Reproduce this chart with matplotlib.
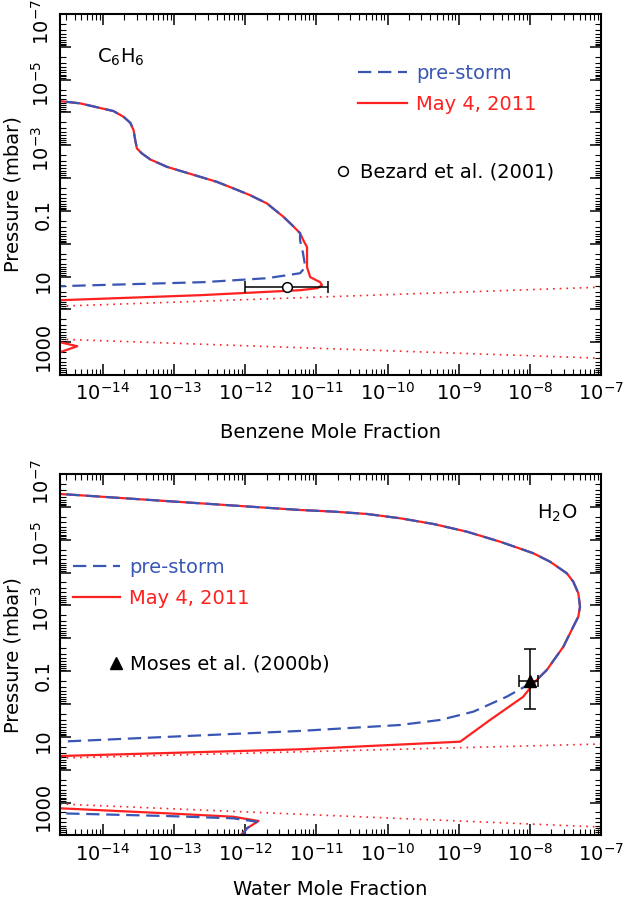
import numpy as np
import matplotlib.pyplot as plt
import matplotlib.transforms as mtransforms
from matplotlib.ticker import LogLocator, NullFormatter
from matplotlib.lines import Line2D

plt.rcParams['font.family'] = ['DejaVu Sans']
plt.rcParams['mathtext.fontset'] = 'dejavusans'
plt.rcParams['mathtext.default'] = 'regular'

BLUE = '#3a56b4'
RED = '#ff2020'

# --- C6H6 (top panel): mole fraction vs pressure (mbar) ---
c6h6_upper_x = [1.6e-15, 2.5e-15, 4.82e-15, 1.41e-14, 1.95e-14, 2.43e-14, 2.70e-14, 2.85e-14,
                3.01e-14, 3.54e-14, 4.63e-14, 7.94e-14, 1.36e-13, 2.33e-13, 4.0e-13, 6.85e-13,
                1.17e-12, 2.02e-12, 3.45e-12, 4.57e-12, 5.9e-12]
c6h6_upper_p = [3.9e-5, 4.5e-5, 5.28e-5, 9.05e-5, 1.35e-4, 2.06e-4, 3.44e-4, 6.9e-4,
                1.245e-3, 1.77e-3, 2.69e-3, 4.52e-3, 6.43e-3, 9.12e-3, 0.013, 0.0206,
                0.033, 0.059, 0.151, 0.271, 0.475]
c6h6_storm_x = [6.6e-12, 7.4e-12, 7.4e-12, 8.2e-12, 1.13e-11, 1.2e-11, 1.03e-11, 5.9e-12,
                2.33e-13, 2.5e-15, 1.6e-15]
c6h6_storm_p = [0.80, 1.27, 5.2, 10.4, 14.8, 18.3, 22.6, 26.0, 36.9, 52.5, 55.0]
c6h6_pre_x = [5.9e-12, 6.5e-12, 7.0e-12, 5.9e-12, 2.04e-12, 2.57e-13, 2.5e-15, 1.6e-15]
c6h6_pre_p = [0.776, 1.94, 5.2, 7.9, 11.2, 14.8, 19.6, 20.4]
c6h6_deep_x = [1.6e-15, 2.5e-15, 4.37e-15, 2.5e-15, 1.6e-15]
c6h6_deep_p = [950, 1000, 1325, 2018, 2100]
c6h6_sat1_x, c6h6_sat1_p = [2.5e-15, 1e-7], [79.8, 21.0]
c6h6_sat2_x, c6h6_sat2_p = [2.5e-15, 1e-7], [811, 3076]
bezard_x, bezard_p = 3.9e-12, 21.0
bezard_xerr = [[2.9e-12], [1.08e-11]]

# --- H2O (bottom panel) ---
h2o_upper_x = [1.6e-15, 2.5e-15, 5.9e-12, 1.74e-11, 5.12e-11, 1.5e-10, 4.41e-10, 1.30e-9,
               3.81e-9, 1.12e-8, 1.92e-8, 3.30e-8, 4.08e-8, 4.80e-8, 5.07e-8, 4.80e-8,
               4.08e-8, 2.96e-8, 1.73e-8, 1.25e-8]
h2o_upper_p = [3.8e-7, 4.06e-7, 1.25e-6, 1.40e-6, 1.65e-6, 2.23e-6, 3.33e-6, 5.70e-6,
               1.15e-5, 2.59e-5, 4.67e-5, 1.05e-4, 1.90e-4, 4.28e-4, 1.09e-3, 2.20e-3,
               4.44e-3, 0.018, 0.0923, 0.186]
h2o_pre_x = [1.25e-8, 4.74e-9, 1.61e-9, 5.48e-10, 1.5e-10, 5.9e-12, 2.5e-15, 1.6e-15]
h2o_pre_p = [0.186, 0.598, 1.71, 3.06, 4.35, 6.6, 14.0, 14.8]
h2o_storm_x = [1.25e-8, 8.0e-9, 2.76e-9, 1.05e-9, 5.9e-12, 2.5e-15, 1.6e-15]
h2o_storm_p = [0.186, 0.611, 3.06, 14.0, 23.9, 38.2, 40.0]
h2o_loop_storm_x = [1.6e-15, 2.5e-15, 7.9e-14, 6.8e-13, 1.54e-12, 1.06e-12, 8.5e-13, 7.6e-13]
h2o_loop_storm_p = [1445, 1490, 2120, 2690, 3630, 6050, 10160, 12600]
h2o_loop_pre_x = [1.6e-15, 2.5e-15, 7.9e-14, 6.8e-13, 1.46e-12, 1.06e-12, 9.0e-13, 7.9e-13]
h2o_loop_pre_p = [2040, 2120, 2560, 3010, 3810, 6050, 10160, 12600]
h2o_sat1_x, h2o_sat1_p = [2.5e-15, 1e-7], [44.0, 16.5]
h2o_sat2_x, h2o_sat2_p = [2.5e-15, 1e-7], [1104, 5534]
moses_x, moses_p = 1e-8, 0.2
moses_xerr = [[0.3e-8], [0.3e-8]]
moses_perr = [[0.179], [1.21]]

x_ticks = [1e-14, 1e-13, 1e-12, 1e-11, 1e-10, 1e-9, 1e-8, 1e-7]
x_labels = [r'$10^{-%d}$' % n for n in range(14, 6, -1)]
y_ticks = [1e-7, 1e-6, 1e-5, 1e-4, 1e-3, 1e-2, 1e-1, 1, 10, 100, 1000, 1e4]
y_labels = [r'$10^{-7}$', '', r'$10^{-5}$', '', r'$10^{-3}$', '', '0.1', '', '10', '', '1000', '']

DASH = (0, (6, 3))
DOT = (0, (1, 3))

fig = plt.figure(figsize=(6.25, 9), dpi=100)
label_shift = mtransforms.ScaledTranslation(0, -4 / 100, fig.dpi_scale_trans)
top_shift = mtransforms.ScaledTranslation(0, -8 / 100, fig.dpi_scale_trans)


def setup_axes(ax, xlabel, xlabel_y):
    ax.set_xscale('log')
    ax.set_yscale('log')
    ax.set_xticks(x_ticks, labels=x_labels)
    ax.set_yticks(y_ticks, labels=y_labels)
    ax.xaxis.set_minor_locator(LogLocator(base=10, subs=np.arange(2, 10), numticks=100))
    ax.yaxis.set_minor_locator(LogLocator(base=10, subs=np.arange(2, 10), numticks=100))
    ax.xaxis.set_minor_formatter(NullFormatter())
    ax.yaxis.set_minor_formatter(NullFormatter())
    ax.set_xlim(2.5e-15, 1e-7)
    ax.set_ylim(1e4, 1e-7)
    ax.tick_params(which='both', direction='in', top=True, right=True)
    ax.tick_params(which='major', length=8, width=1.1, labelsize=14, pad=5)
    ax.tick_params(which='minor', length=4, width=0.8)
    for i, lab in enumerate(ax.get_yticklabels()):
        lab.set_rotation(90)
        lab.set_va('center')
        lab.set_transform(lab.get_transform() + (top_shift if i == 0 else label_shift))
    for s in ax.spines.values():
        s.set_linewidth(1.5)
    ax.set_xlabel(xlabel, fontsize=14)
    ax.xaxis.set_label_coords(0.5, xlabel_y)
    ax.set_ylabel('Pressure (mbar)', fontsize=14)
    ax.yaxis.set_label_coords(-0.069, 0.5)


ax1 = fig.add_axes([0.096, 0.5833, 0.8656, 0.4011])
ax2 = fig.add_axes([0.096, 0.0717, 0.8656, 0.4017])

# top panel
ax1.plot(c6h6_sat1_x, c6h6_sat1_p, color=RED, ls=DOT, lw=1.2)
ax1.plot(c6h6_sat2_x, c6h6_sat2_p, color=RED, ls=DOT, lw=1.2)
red1, = ax1.plot(c6h6_upper_x + c6h6_storm_x, c6h6_upper_p + c6h6_storm_p, color=RED, lw=1.6)
ax1.plot(c6h6_deep_x, c6h6_deep_p, color=RED, lw=1.6)
blue1, = ax1.plot(c6h6_upper_x + c6h6_pre_x, c6h6_upper_p + c6h6_pre_p, color=BLUE, ls=DASH, lw=1.6)
ax1.errorbar(bezard_x, bezard_p, xerr=bezard_xerr, fmt='o', ms=7, mfc='white', mec='black',
             mew=1.1, ecolor='black', elinewidth=1.1, capsize=4, capthick=1.1, zorder=5)
setup_axes(ax1, 'Benzene Mole Fraction', -0.133)
ax1.text(0.068, 0.881, r'C$_6$H$_6$', transform=ax1.transAxes, fontsize=14, va='center')
leg = ax1.legend([blue1, red1], ['pre-storm', 'May 4, 2011'], loc='center left',
                 bbox_to_anchor=(0.551, 0.792), frameon=False, fontsize=14, handlelength=2.5,
                 handletextpad=0.5, labelspacing=0.6, borderpad=0, borderaxespad=0,
                 labelcolor='linecolor')
ax1.add_artist(leg)
ax1.legend([Line2D([], [], ls='none', marker='o', ms=7, mfc='none', mec='black', mew=1.1)],
           ['Bezard et al. (2001)'], loc='center left', bbox_to_anchor=(0.505, 0.562),
           frameon=False, fontsize=14, handlelength=1, handletextpad=0.38, borderpad=0,
           borderaxespad=0)

# bottom panel
ax2.plot(h2o_sat1_x, h2o_sat1_p, color=RED, ls=DOT, lw=1.2)
ax2.plot(h2o_sat2_x, h2o_sat2_p, color=RED, ls=DOT, lw=1.2)
red2, = ax2.plot(h2o_upper_x + h2o_storm_x, h2o_upper_p + h2o_storm_p, color=RED, lw=1.6)
ax2.plot(h2o_loop_storm_x, h2o_loop_storm_p, color=RED, lw=1.6)
blue2, = ax2.plot(h2o_upper_x + h2o_pre_x, h2o_upper_p + h2o_pre_p, color=BLUE, ls=DASH, lw=1.6)
ax2.plot(h2o_loop_pre_x, h2o_loop_pre_p, color=BLUE, ls=DASH, lw=1.6)
ax2.errorbar(moses_x, moses_p, xerr=moses_xerr, yerr=moses_perr, fmt='^', ms=8, color='black',
             ecolor='black', elinewidth=1.1, capsize=4, capthick=1.1, zorder=5)
setup_axes(ax2, 'Water Mole Fraction', -0.122)
ax2.text(0.882, 0.892, r'H$_2$O', transform=ax2.transAxes, fontsize=14, va='center')
leg = ax2.legend([blue2, red2], ['pre-storm', 'May 4, 2011'], loc='center left',
                 bbox_to_anchor=(0.024, 0.6985), frameon=False, fontsize=14, handlelength=2.4,
                 handletextpad=0.5, labelspacing=0.6, borderpad=0, borderaxespad=0,
                 labelcolor='linecolor')
ax2.add_artist(leg)
ax2.legend([Line2D([], [], ls='none', marker='^', ms=8, color='black')],
           ['Moses et al. (2000b)'], loc='center left', bbox_to_anchor=(0.0856, 0.4744),
           frameon=False, fontsize=14, handlelength=1, handletextpad=0.2, borderpad=0,
           borderaxespad=0)

fig.savefig('out.png', dpi=100)
